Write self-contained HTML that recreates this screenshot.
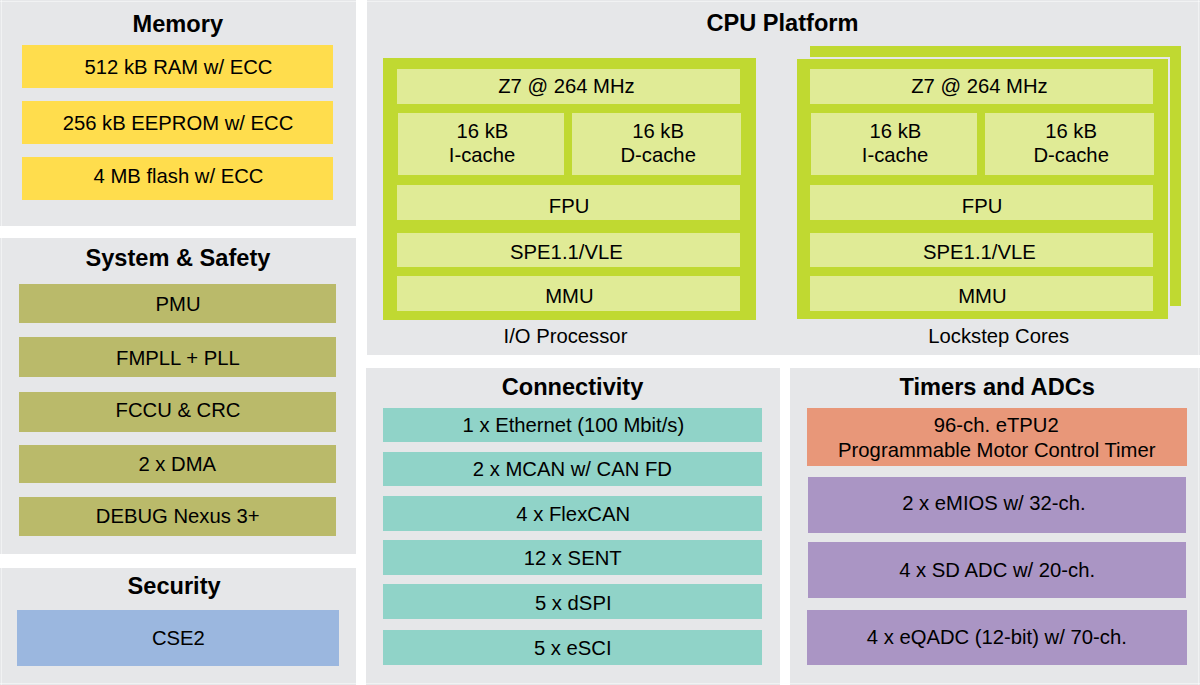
<!DOCTYPE html>
<html><head><meta charset="utf-8"><style>
html,body{margin:0;padding:0;}
body{width:1200px;height:685px;position:relative;overflow:hidden;background:#fff;font-family:"Liberation Sans",sans-serif;color:#000;}
.r{position:absolute;}
.t{position:absolute;width:600px;text-align:center;white-space:nowrap;}
.b{font-weight:bold;}
</style></head><body>
<div class="r" style="left:0px;top:0px;width:356px;height:226px;background:#E6E7E9"></div>
<div class="r" style="left:0px;top:238px;width:356px;height:316px;background:#E6E7E9"></div>
<div class="r" style="left:0px;top:568px;width:356px;height:117px;background:#E6E7E9"></div>
<div class="r" style="left:367px;top:0px;width:833px;height:355px;background:#E6E7E9"></div>
<div class="r" style="left:366px;top:368px;width:414px;height:317px;background:#E6E7E9"></div>
<div class="r" style="left:790px;top:368px;width:410px;height:317px;background:#E6E7E9"></div>
<div class="t b" style="left:-122.20px;top:12.62px;font-size:23.6px;line-height:23.6px">Memory</div>
<div class="r" style="left:22px;top:45px;width:311px;height:43px;background:#FFDD4D"></div>
<div class="t" style="left:-121.50px;top:57.06px;font-size:20.25px;line-height:20.25px">512 kB RAM w/ ECC</div>
<div class="r" style="left:22px;top:101px;width:311px;height:43px;background:#FFDD4D"></div>
<div class="t" style="left:-122.00px;top:113.36px;font-size:20.25px;line-height:20.25px">256 kB EEPROM w/ ECC</div>
<div class="r" style="left:22px;top:157px;width:311px;height:43px;background:#FFDD4D"></div>
<div class="t" style="left:-121.50px;top:166.26px;font-size:20.25px;line-height:20.25px">4 MB flash w/ ECC</div>
<div class="t b" style="left:-122.10px;top:246.82px;font-size:23.6px;line-height:23.6px">System &amp; Safety</div>
<div class="r" style="left:19px;top:284px;width:317px;height:39px;background:#BABA6A"></div>
<div class="t" style="left:-121.90px;top:294.26px;font-size:20.25px;line-height:20.25px">PMU</div>
<div class="r" style="left:19px;top:337px;width:317px;height:40px;background:#BABA6A"></div>
<div class="t" style="left:-122.10px;top:348.06px;font-size:20.25px;line-height:20.25px">FMPLL + PLL</div>
<div class="r" style="left:19px;top:392px;width:317px;height:40px;background:#BABA6A"></div>
<div class="t" style="left:-122.00px;top:399.86px;font-size:20.25px;line-height:20.25px">FCCU &amp; CRC</div>
<div class="r" style="left:19px;top:445px;width:317px;height:38px;background:#BABA6A"></div>
<div class="t" style="left:-122.70px;top:453.66px;font-size:20.25px;line-height:20.25px">2 x DMA</div>
<div class="r" style="left:19px;top:497px;width:317px;height:39px;background:#BABA6A"></div>
<div class="t" style="left:-122.30px;top:506.46px;font-size:20.25px;line-height:20.25px">DEBUG Nexus 3+</div>
<div class="t b" style="left:-125.90px;top:575.42px;font-size:23.6px;line-height:23.6px">Security</div>
<div class="r" style="left:17px;top:610px;width:322px;height:56px;background:#9BB7DF"></div>
<div class="t" style="left:-121.60px;top:627.66px;font-size:20.25px;line-height:20.25px">CSE2</div>
<div class="t b" style="left:482.50px;top:12.42px;font-size:23.6px;line-height:23.6px">CPU Platform</div>
<div class="r" style="left:383px;top:58px;width:373px;height:262px;background:#C0D931"></div>
<div class="r" style="left:397px;top:69px;width:343px;height:35px;background:#E0EB96"></div>
<div class="t" style="left:266.50px;top:75.66px;font-size:20.25px;line-height:20.25px">Z7 @ 264 MHz</div>
<div class="r" style="left:398px;top:113px;width:166px;height:62px;background:#E0EB96"></div>
<div class="r" style="left:572px;top:113px;width:169px;height:62px;background:#E0EB96"></div>
<div class="t" style="left:182.50px;top:121.46px;font-size:20.25px;line-height:20.25px">16 kB</div>
<div class="t" style="left:182.00px;top:145.46px;font-size:20.25px;line-height:20.25px">I-cache</div>
<div class="t" style="left:358.10px;top:121.46px;font-size:20.25px;line-height:20.25px">16 kB</div>
<div class="t" style="left:358.20px;top:145.46px;font-size:20.25px;line-height:20.25px">D-cache</div>
<div class="r" style="left:397px;top:185px;width:343px;height:35px;background:#E0EB96"></div>
<div class="t" style="left:269.10px;top:195.66px;font-size:20.25px;line-height:20.25px">FPU</div>
<div class="r" style="left:397px;top:233px;width:343px;height:34px;background:#E0EB96"></div>
<div class="t" style="left:266.40px;top:242.26px;font-size:20.25px;line-height:20.25px">SPE1.1/VLE</div>
<div class="r" style="left:397px;top:276px;width:343px;height:35px;background:#E0EB96"></div>
<div class="t" style="left:269.40px;top:285.66px;font-size:20.25px;line-height:20.25px">MMU</div>
<div class="r" style="left:810px;top:46px;width:371px;height:260px;background:#C0D931"></div>
<div class="r" style="left:795px;top:57px;width:375px;height:264px;background:#E6E7E9"></div>
<div class="r" style="left:797px;top:59px;width:371px;height:260px;background:#C0D931"></div>
<div class="r" style="left:810px;top:69px;width:343px;height:35px;background:#E0EB96"></div>
<div class="t" style="left:679.50px;top:75.66px;font-size:20.25px;line-height:20.25px">Z7 @ 264 MHz</div>
<div class="r" style="left:811px;top:113px;width:166px;height:62px;background:#E0EB96"></div>
<div class="r" style="left:985px;top:113px;width:169px;height:62px;background:#E0EB96"></div>
<div class="t" style="left:595.50px;top:121.46px;font-size:20.25px;line-height:20.25px">16 kB</div>
<div class="t" style="left:595.00px;top:145.46px;font-size:20.25px;line-height:20.25px">I-cache</div>
<div class="t" style="left:771.10px;top:121.46px;font-size:20.25px;line-height:20.25px">16 kB</div>
<div class="t" style="left:771.20px;top:145.46px;font-size:20.25px;line-height:20.25px">D-cache</div>
<div class="r" style="left:810px;top:185px;width:343px;height:35px;background:#E0EB96"></div>
<div class="t" style="left:682.10px;top:195.66px;font-size:20.25px;line-height:20.25px">FPU</div>
<div class="r" style="left:810px;top:233px;width:343px;height:34px;background:#E0EB96"></div>
<div class="t" style="left:679.40px;top:242.26px;font-size:20.25px;line-height:20.25px">SPE1.1/VLE</div>
<div class="r" style="left:810px;top:276px;width:343px;height:35px;background:#E0EB96"></div>
<div class="t" style="left:682.40px;top:285.66px;font-size:20.25px;line-height:20.25px">MMU</div>
<div class="t" style="left:265.50px;top:326.46px;font-size:20.25px;line-height:20.25px">I/O Processor</div>
<div class="t" style="left:698.70px;top:326.46px;font-size:20.25px;line-height:20.25px">Lockstep Cores</div>
<div class="t b" style="left:272.50px;top:375.82px;font-size:23.6px;line-height:23.6px">Connectivity</div>
<div class="r" style="left:383px;top:408px;width:379px;height:34px;background:#90D3C8"></div>
<div class="t" style="left:273.40px;top:414.86px;font-size:20.25px;line-height:20.25px">1 x Ethernet (100 Mbit/s)</div>
<div class="r" style="left:383px;top:452px;width:379px;height:34px;background:#90D3C8"></div>
<div class="t" style="left:272.40px;top:458.86px;font-size:20.25px;line-height:20.25px">2 x MCAN w/ CAN FD</div>
<div class="r" style="left:383px;top:496px;width:379px;height:35px;background:#90D3C8"></div>
<div class="t" style="left:273.20px;top:503.66px;font-size:20.25px;line-height:20.25px">4 x FlexCAN</div>
<div class="r" style="left:383px;top:540px;width:379px;height:35px;background:#90D3C8"></div>
<div class="t" style="left:272.70px;top:548.36px;font-size:20.25px;line-height:20.25px">12 x SENT</div>
<div class="r" style="left:383px;top:584px;width:379px;height:35px;background:#90D3C8"></div>
<div class="t" style="left:273.25px;top:593.06px;font-size:20.25px;line-height:20.25px">5 x dSPI</div>
<div class="r" style="left:383px;top:630px;width:379px;height:35px;background:#90D3C8"></div>
<div class="t" style="left:272.80px;top:638.06px;font-size:20.25px;line-height:20.25px">5 x eSCI</div>
<div class="t b" style="left:697.20px;top:376.02px;font-size:23.6px;line-height:23.6px">Timers and ADCs</div>
<div class="r" style="left:807px;top:408px;width:380px;height:58px;background:#E89779"></div>
<div class="t" style="left:696.30px;top:415.46px;font-size:20.25px;line-height:20.25px">96-ch. eTPU2</div>
<div class="t" style="left:696.80px;top:439.66px;font-size:20.25px;line-height:20.25px">Programmable Motor Control Timer</div>
<div class="r" style="left:808px;top:477px;width:378px;height:56px;background:#AA95C4"></div>
<div class="t" style="left:693.90px;top:493.36px;font-size:20.25px;line-height:20.25px">2 x eMIOS w/ 32-ch.</div>
<div class="r" style="left:808px;top:542px;width:378px;height:56px;background:#AA95C4"></div>
<div class="t" style="left:697.15px;top:560.36px;font-size:20.25px;line-height:20.25px">4 x SD ADC w/ 20-ch.</div>
<div class="r" style="left:807px;top:610px;width:380px;height:55px;background:#AA95C4"></div>
<div class="t" style="left:696.80px;top:626.86px;font-size:20.25px;line-height:20.25px">4 x eQADC (12-bit) w/ 70-ch.</div>
<div class="r" style="left:0px;top:1px;width:1200px;height:1px;background:rgba(255,255,255,0.45)"></div>
<div class="r" style="left:0px;top:683px;width:1200px;height:1px;background:rgba(255,255,255,0.45)"></div>
<div class="r" style="left:1px;top:0px;width:1px;height:685px;background:rgba(255,255,255,0.45)"></div>
<div class="r" style="left:1198px;top:0px;width:1px;height:685px;background:rgba(255,255,255,0.45)"></div>
</body></html>
